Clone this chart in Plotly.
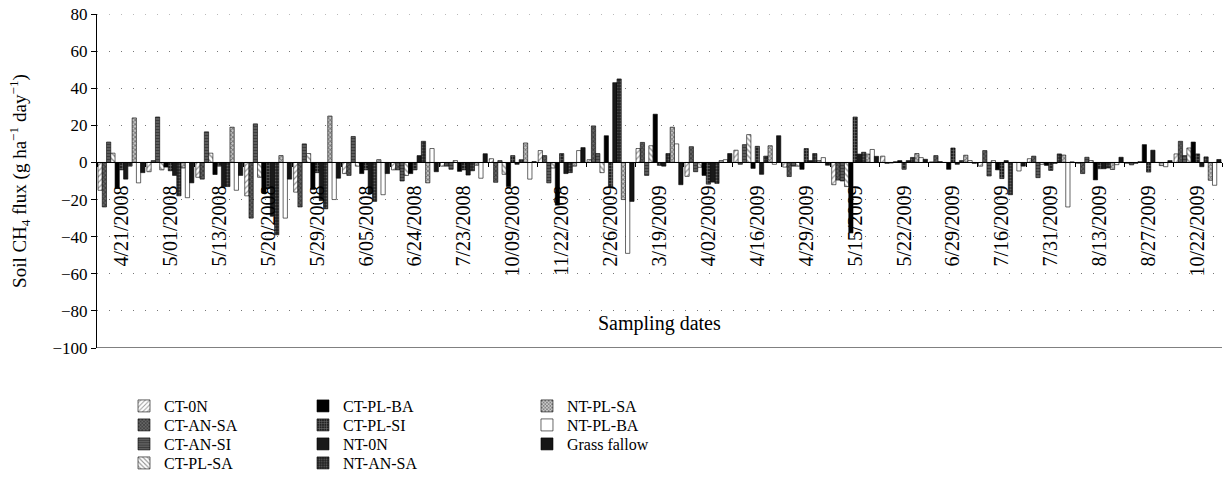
import plotly.graph_objects as go

dates = ["4/21/2008", "5/01/2008", "5/13/2008", "5/20/2008", "5/29/2008", "6/05/2008",
         "6/24/2008", "7/23/2008", "10/09/2008", "11/22/2008", "2/26/2009", "3/19/2009",
         "4/02/2009", "4/16/2009", "4/29/2009", "5/15/2009", "5/22/2009", "6/29/2009",
         "7/16/2009", "7/31/2009", "8/13/2009", "8/27/2009", "10/22/2009"]

ct_0n    = [-15, -5, -8, -18, -16, -6, -4, -2, 2, 6.4, 1.5, 7.5, -7.5, 6.6, -2.5, -12, 3.4, 0.3, -2, 2, -0.5, -0.5, 4.6]
ct_an_sa = [-24, 1, -9, -30, -24, -7, -4, -2, -10.7, 3.7, 19.7, 10.8, 8.5, -1, -7.6, -9.5, -0.5, 3.7, 6.4, 3.4, -6, -1.3, 11.4]
ct_an_si = [11, 24.5, 16.5, 20.8, 10, 14, -10, -3.7, 1, -11, 4.8, -7, -5, 9.6, -2, -10, -0.3, 0.5, -7.3, -8.2, 2.8, -0.5, 3.7]
ct_pl_sa = [5, -4, 5, -8, 4.8, -2, -7, 1, -6.4, -3, -5.5, 9, -2.6, 15, -2, -13, 0.5, 0, 1, -1, 1, 0.5, 7.8]
ct_pl_ba = [-14, -2.5, -6.5, -16.6, -14.5, -6, -6, -4.8, -13, -23, 14.4, 26, -7, -3.2, -3.7, -38, 1, -3.7, -4, -1.6, -9.4, 9.6, 11]
ct_pl_si = [-4, -4.5, -2, -14, -5.5, -4, -4, -4, 3.7, 4.8, -13.5, -1.6, -11.7, 8.7, 7.5, 24.5, -3.7, 7.8, -8.7, -4.3, -3.4, -5.2, 4.6]
nt_0n    = [-9, -7, -13, -29, -20.6, -16.6, 3.7, -6.8, -1, -6, 43, -2, -10.6, -6.4, 1, 4.5, 1, -1, 1, -0.5, -3.4, 6.6, -2.3]
nt_an_sa = [-2, -18, -13, -39, -25, -21, 11.4, -4.5, 1.5, -5.5, 45, 4.8, -11.3, 3.4, 4.8, 5.5, 2.7, 1, -17.4, 4.6, -3, 0, 3]
nt_pl_sa = [24, -3, 19, 3.7, 25, 1.5, -11, -1.5, 10.5, -2, -20, 19, 1, 9, 1, 4.5, 4.8, 3.9, 0, 4, -3.8, -1.7, -9.6]
nt_pl_ba = [-11, -19, -15, -30, -20, -17.4, 7.5, -8.5, -9, 6.4, -49, 10, 1.5, -1, 2.6, 7, 2.6, 1, -4.6, -24, -1.2, -2.3, -12.3]
grass    = [-5.5, -11, -7, -9, -8.5, -6, -5, 4.7, 0.5, 8, -21, -12, 4.8, 14.4, -1.5, 3.3, 1.7, -0.5, -2, 0.3, 2.8, 1, 1.6]

series_names = ["CT-0N", "CT-AN-SA", "CT-AN-SI", "CT-PL-SA", "CT-PL-BA", "CT-PL-SI",
                "NT-0N", "NT-AN-SA", "NT-PL-SA", "NT-PL-BA", "Grass fallow"]
series_values = [ct_0n, ct_an_sa, ct_an_si, ct_pl_sa, ct_pl_ba, ct_pl_si,
                 nt_0n, nt_an_sa, nt_pl_sa, nt_pl_ba, grass]
y_ticks = [-100, -80, -60, -40, -20, 0, 20, 40, 60, 80]

styles = {
    "CT-0N": dict(shape="/", fgcolor="#333", bgcolor="white", size=4, solidity=0.3),
    "CT-AN-SA": dict(shape="x", fgcolor="#111", bgcolor="#666", size=3, solidity=0.5),
    "CT-AN-SI": dict(shape="-", fgcolor="#111", bgcolor="#666", size=3, solidity=0.5),
    "CT-PL-SA": dict(shape="\\", fgcolor="#222", bgcolor="white", size=4, solidity=0.35),
    "CT-PL-BA": "#000000",
    "CT-PL-SI": dict(shape="+", fgcolor="#ddd", bgcolor="#222", size=3, solidity=0.3),
    "NT-0N": "#1a1a1a",
    "NT-AN-SA": dict(shape=".", fgcolor="#999", bgcolor="#222", size=3, solidity=0.3),
    "NT-PL-SA": dict(shape="x", fgcolor="#222", bgcolor="#ccc", size=3, solidity=0.5),
    "NT-PL-BA": "#ffffff",
    "Grass fallow": "#151515",
}

FONT = "Liberation Serif"
fig = go.Figure()
legend_layout = {}
col_x = [0.0240, 0.1831, 0.3822]
row_y0, row_step = -0.1228, 0.0569
for i, (name, vals) in enumerate(zip(series_names, series_values)):
    st = styles[name]
    marker = dict(line=dict(color="#000", width=0.6))
    if isinstance(st, str):
        marker["color"] = st
    else:
        marker["color"] = st["bgcolor"]
        marker["pattern"] = dict(fillmode="overlay", **st)
    leg = "legend" if i == 0 else f"legend{i + 1}"
    col, row = divmod(i, 4)
    legend_layout[leg] = dict(x=col_x[col], y=row_y0 - row * row_step,
                              xanchor="left", yanchor="top", orientation="v",
                              font=dict(family=FONT, size=16),
                              bgcolor="rgba(0,0,0,0)")
    fig.add_trace(go.Bar(x=dates, y=vals, name=name, marker=marker, legend=leg))

fig.update_layout(
    width=1225, height=494,
    margin=dict(l=97, r=3, t=14, b=146, autoexpand=False),
    paper_bgcolor="white", plot_bgcolor="white",
    font=dict(family=FONT, size=16, color="#000"),
    barmode="group", bargap=0.04, bargroupgap=0,
    showlegend=True,
    xaxis=dict(
        type="category", anchor="free", position=100 / 180,
        showline=True, linecolor="#000", linewidth=1,
        ticks="outside", ticklen=4, tickcolor="#000", tickson="boundaries",
        tickangle=-90, tickfont=dict(family=FONT, size=20),
        ticklabelstandoff=14, automargin=False,
        showgrid=False,
    ),
    yaxis=dict(
        range=[-100, 80], tickvals=y_ticks,
        showline=True, linecolor="#000", linewidth=1,
        ticks="outside", ticklen=5, tickcolor="#000",
        tickfont=dict(family=FONT, size=17), ticklabeloverflow="allow",
        automargin=False,
        showgrid=True, gridcolor="#777", gridwidth=1.2, griddash="1px,11px",
        zeroline=True, zerolinecolor="#000", zerolinewidth=1,
        title=dict(text="Soil CH<sub>4</sub> flux (g ha<sup>−1</sup> day<sup>−1</sup>)",
                   font=dict(family=FONT, size=19), standoff=20),
    ),
    shapes=[dict(type="line", xref="paper", yref="y", x0=0, x1=1, y0=-100, y1=-100,
                 line=dict(color="#000", width=1)),
            dict(type="line", xref="paper", yref="y", x0=0, x1=1, y0=80, y1=80,
                 line=dict(color="#777", width=1.2, dash="1px,11px"))],
    annotations=[dict(text="Sampling dates", xref="paper", yref="y", x=0.5, y=-87,
                      showarrow=False, font=dict(family=FONT, size=20))],
    **legend_layout,
)

fig.write_html("out.html", config={"displayModeBar": False},
               post_script="document.body.style.margin='0';document.body.style.overflow='hidden';")
